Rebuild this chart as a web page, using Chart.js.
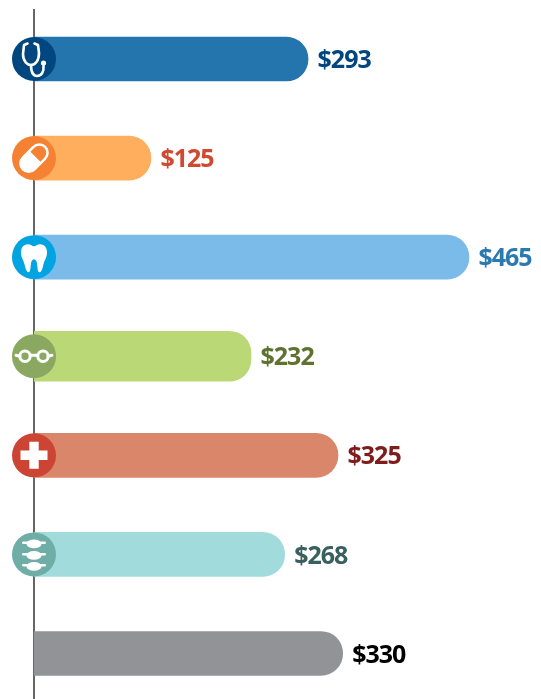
<!DOCTYPE html>
<html>
<head>
<meta charset="utf-8">
<script src="https://cdn.jsdelivr.net/npm/chart.js@4"></script>
<style>
html,body{margin:0;padding:0;background:#fff;overflow:hidden;}
canvas{display:block;}
</style>
</head>
<body>
<canvas id="c" width="541" height="703"></canvas>
<script>
/* DATA */
const categories=["Doctor","Prescriptions","Dental","Vision","Hospital","Chiropractic","Other"];
const values=[293,125,465,232,325,268,330];
const labels=["$293","$125","$465","$232","$325","$268","$330"];

/* STYLE */
const barColors=["#2475ae","#feae5c","#7abbe9","#bad976","#d9866b","#a2dbdb","#929396"];
const iconColors=["#00467f","#f58233","#00a4e0","#8aa860","#cc4433","#6fada7",null];
const textColors=["#00467f","#cf4a30","#2a7ab0","#5f7330","#7f1d1d","#3a5f5f","#000000"];
const icons=["stetho","pill","tooth","glasses","cross","spine",null];

/* the green bar is a bit thicker than the others */
const tallIdx=3;
const normalData=values.map((v,i)=>i===tallIdx?null:v);
const tallData=values.map((v,i)=>i===tallIdx?v:null);

/* ICONS - drawn around 0,0 (centre of circle) */
const drawIcon={
stetho(g,bg){
g.lineWidth=2.6;
g.beginPath();
g.moveTo(-6.5,-15.5);g.lineTo(-10,-14);g.lineTo(-11,-5);
g.bezierCurveTo(-11,3,-6,6,-3,6);
g.bezierCurveTo(1,6,5,2,5,-6);
g.lineTo(4,-14);g.lineTo(0.5,-15.5);
g.stroke();
g.beginPath();
g.moveTo(-3,6);
g.bezierCurveTo(-3,14,0,17,3,17);
g.bezierCurveTo(8,17,10,12,9.5,7);
g.stroke();
g.beginPath();g.arc(9.5,4,2.6,0,Math.PI*2);g.fill();
},
pill(g,bg){
g.rotate(-Math.PI/4);
g.beginPath();g.roundRect(-17,-9.5,34,19,9.5);g.fill();
g.fillStyle=bg;
g.beginPath();g.roundRect(2,-7,12.5,14,[0,7,7,0]);g.fill();
},
tooth(g,bg){
g.beginPath();
g.moveTo(-6,-13);
g.bezierCurveTo(-3,-13,-2,-11,0,-11);
g.bezierCurveTo(2,-11,3,-13,6,-13);
g.bezierCurveTo(11,-13,13,-9,13,-5);
g.bezierCurveTo(13,1,10,3,9,9);
g.bezierCurveTo(8,13,7,15,5.5,15);
g.bezierCurveTo(3.5,15,3.5,10,3,6);
g.bezierCurveTo(2.5,3,1,2,0,2);
g.bezierCurveTo(-1,2,-2.5,3,-3,6);
g.bezierCurveTo(-3.5,10,-3.5,15,-5.5,15);
g.bezierCurveTo(-7,15,-8,13,-9,9);
g.bezierCurveTo(-10,3,-13,1,-13,-5);
g.bezierCurveTo(-13,-9,-11,-13,-6,-13);
g.closePath();
g.fill();
},
glasses(g,bg){
g.lineWidth=3;
g.beginPath();g.arc(-9,0,5.2,0,Math.PI*2);g.stroke();
g.beginPath();g.arc(9,0,5.2,0,Math.PI*2);g.stroke();
g.beginPath();
g.moveTo(-3.5,-1);g.lineTo(3.5,-1);
g.moveTo(-18,-1);g.lineTo(-14,0);
g.moveTo(18,-1);g.lineTo(14,0);
g.stroke();
},
cross(g,bg){
g.beginPath();
g.rect(-4.7,-13.5,9.4,27);
g.rect(-13.5,-4.7,27,9.4);
g.fill();
},
spine(g,bg){
[-10.5,1,12].forEach(y=>{
g.beginPath();g.ellipse(0,y,7.5,4.3,0,0,Math.PI*2);g.fill();
g.beginPath();g.roundRect(-12,y-2.4,24,2.4,1.2);g.fill();
});
}
};

/* PLUGIN circles + value labels */
const extras={
id:"extras",
afterDatasetsDraw(chart){
let g=chart.ctx;
let x=chart.scales.x, y=chart.scales.y;
categories.forEach((c,i)=>{
let cy=y.getPixelForValue(i);
let cx=x.getPixelForValue(0);

if(iconColors[i]){
g.save();
g.fillStyle=iconColors[i];
g.beginPath();g.arc(cx,cy,22,0,Math.PI*2);g.fill();
g.translate(cx,cy);
g.fillStyle="#fff";
g.strokeStyle="#fff";
g.lineCap="round";
g.lineJoin="round";
drawIcon[icons[i]](g,iconColors[i]);
g.restore();
}

g.save();
g.font="700 25px 'Open Sans'";
g.letterSpacing="-1px";
g.fillStyle=textColors[i];
g.textAlign="left";
g.textBaseline="middle";
g.fillText(labels[i],x.getPixelForValue(values[i])+9.5,cy+2);
g.restore();
});
}
};

new Chart(document.getElementById("c"),{
type:"bar",
plugins:[extras],
data:{
labels:categories,
datasets:[
{data:normalData,backgroundColor:barColors,barThickness:44,grouped:false,
borderRadius:{topLeft:0,bottomLeft:0,topRight:22,bottomRight:22},borderSkipped:false},
{data:tallData,backgroundColor:barColors,barThickness:50,grouped:false,
borderRadius:{topLeft:0,bottomLeft:0,topRight:22,bottomRight:22},borderSkipped:false}
]
},
options:{
indexAxis:"y",
responsive:false,
animation:false,
devicePixelRatio:1,
layout:{padding:{left:34,top:9.5,right:0,bottom:0}},
plugins:{legend:{display:false},tooltip:{enabled:false}},
scales:{
x:{display:false,min:0,max:542},
y:{
grid:{display:false,drawTicks:false},
ticks:{display:false},
border:{display:true,color:"#666666",width:2}
}
}
}
});
</script>
</body>
</html>
